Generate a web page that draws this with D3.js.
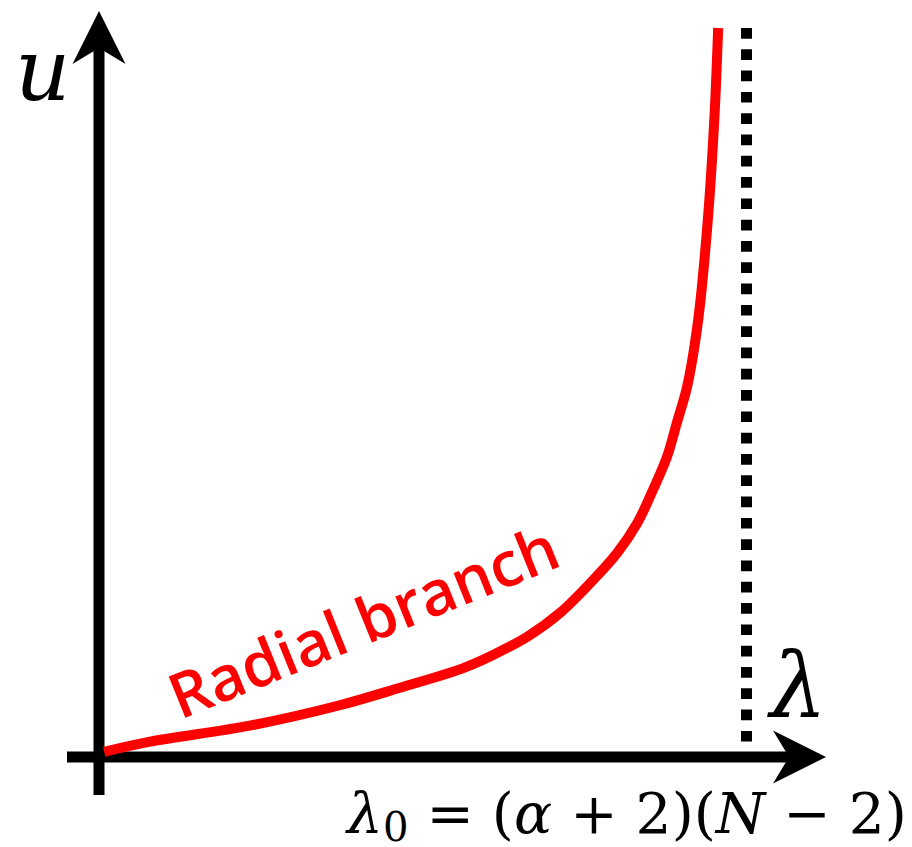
<!DOCTYPE html>
<html>
<head>
<meta charset="utf-8">
<script src="https://cdn.jsdelivr.net/npm/d3@7"></script>
<style>
  html, body { margin: 0; padding: 0; background: #fff; }
  svg { display: block; }
</style>
</head>
<body>
<svg id="chart" width="912" height="847"></svg>
<script>
// Radial branch: eigenvalue lambda against amplitude u, blowing up at lambda0
const lambdaValues = [0.008, 0.079, 0.233, 0.372, 0.465, 0.563, 0.609, 0.662, 0.713, 0.764, 0.801, 0.832, 0.856, 0.878, 0.893, 0.909, 0.926, 0.941, 0.951, 0.957];
const uValues      = [0.07,  0.21,  0.43,  0.71,  0.95,  1.22,  1.40,  1.65,  1.98,  2.43,  2.80,  3.21,  3.66,  4.12,  4.58,  5.08,  5.99,  7.37,  8.74,  10.0];
const lambdaCritical = 1;   // asymptote at lambda0
const uMax = 10;

const curveLabel = "Radial branch";
const uLabel = "u";
const lambdaLabel = "λ";

const width = 912, height = 847;
const svg = d3.select("#chart");

const x = d3.scaleLinear().domain([0, lambdaCritical]).range([99, 746]);
const y = d3.scaleLinear().domain([0, uMax]).range([757, 28]);

const black = "#000000";
const red = "#ff0000";
const axisW = 11;

// axes with filled arrowheads
const x0 = x(0), y0 = y(0);
const headLen = 53, headHalf = 26.5, notch = 16;

svg.append("line")
  .attr("x1", 67).attr("x2", 826 - headLen + notch + 2)
  .attr("y1", y0).attr("y2", y0)
  .attr("stroke", black).attr("stroke-width", axisW);
svg.append("line")
  .attr("x1", x0).attr("x2", x0)
  .attr("y1", 795).attr("y2", 11 + headLen - notch - 2)
  .attr("stroke", black).attr("stroke-width", axisW);

const hx = 826;
svg.append("path")
  .attr("d", `M${hx},${y0} L${hx - headLen},${y0 - headHalf} L${hx - headLen + notch},${y0} L${hx - headLen},${y0 + headHalf} Z`)
  .attr("fill", black);
const vy = 11;
svg.append("path")
  .attr("d", `M${x0},${vy} L${x0 - headHalf},${vy + headLen} L${x0},${vy + headLen - notch} L${x0 + headHalf},${vy + headLen} Z`)
  .attr("fill", black);

// dotted asymptote at lambda0
svg.append("line")
  .attr("x1", x(lambdaCritical) + 0.5).attr("x2", x(lambdaCritical) + 0.5)
  .attr("y1", y(uMax)).attr("y2", y0 - 15)
  .attr("stroke", black).attr("stroke-width", axisW)
  .attr("stroke-dasharray", "10.7 10.6");

// the branch itself
const pts = lambdaValues.map((l, i) => [l, uValues[i]]);
const line = d3.line()
  .x(d => x(d[0])).y(d => y(d[1]))
  .curve(d3.curveCatmullRom.alpha(0.5));
svg.append("path")
  .datum(pts)
  .attr("d", line)
  .attr("fill", "none")
  .attr("stroke", red)
  .attr("stroke-width", 10);

// curve label along the branch
const lab = svg.append("text")
  .attr("transform", "translate(180,720) rotate(-22)")
  .attr("font-family", "'Open Sans', sans-serif")
  .attr("font-weight", 600)
  .attr("font-size", 58)
  .attr("fill", red)
  .text(curveLabel);
{
  const w = lab.node().getComputedTextLength();
  lab.attr("font-size", 58 * 414 / w);
}

// axis letters
svg.append("text")
  .attr("x", 15).attr("y", 100)
  .attr("font-family", "'DejaVu Serif', serif")
  .attr("font-style", "italic")
  .attr("font-size", 86)
  .attr("fill", black)
  .text(uLabel);

svg.append("text")
  .attr("x", 770).attr("y", 716)
  .attr("font-family", "'DejaVu Serif', serif")
  .attr("font-style", "italic")
  .attr("font-size", 90)
  .attr("fill", black)
  .text(lambdaLabel);

// lambda0 formula under the axis
const f = svg.append("text")
  .attr("x", 347).attr("y", 833)
  .attr("font-family", "'DejaVu Serif', serif")
  .attr("font-size", 62)
  .attr("fill", black);
const parts = [
  {t: "λ", it: true},
  {t: "0", sub: true},
  {t: " = (", it: false},
  {t: "α", it: true},
  {t: " + 2)(", it: false},
  {t: "N", it: true},
  {t: " − 2)", it: false}
];
parts.forEach(p => {
  const ts = f.append("tspan").text(p.t);
  if (p.it) ts.attr("font-style", "italic");
  if (p.sub) ts.attr("font-size", 44).attr("dy", 9);
  else if (p.t.startsWith(" = ")) ts.attr("dy", -9);
});
{
  const w = f.node().getComputedTextLength();
  const target = 907 - 347;
  f.attr("transform", `translate(347,833) scale(${target / w}) translate(-347,-833)`);
}
</script>
</body>
</html>
